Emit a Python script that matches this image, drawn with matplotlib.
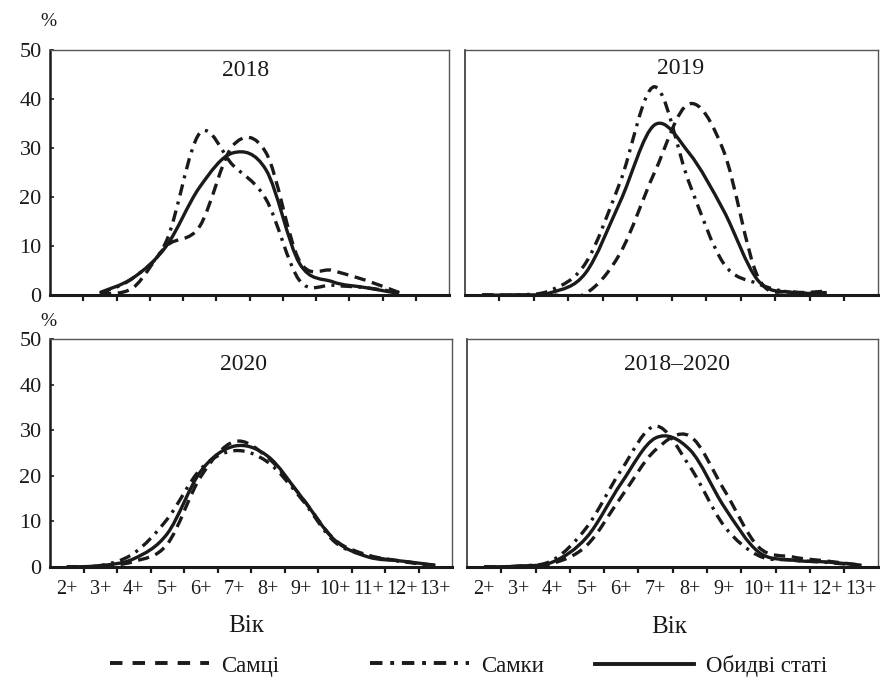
import numpy as np
import matplotlib
matplotlib.use('Agg')
import matplotlib.pyplot as plt
from matplotlib.path import Path
from matplotlib.patches import PathPatch
from matplotlib.lines import Line2D

plt.rcParams['font.family'] = ['Liberation Serif', 'DejaVu Serif']

# вікові групи
ages = ['2+', '3+', '4+', '5+', '6+', '7+', '8+', '9+', '10+', '11+', '12+', '13+']
nan = np.nan

# 2018
m2018 = [nan, 0.2, 1.5, 10.0, 14.0, 30.5, 29.0, 7.0, 5.0, 3.0, 0.5, nan]
f2018 = [nan, 0.3, 3.5, 11.0, 33.0, 26.5, 19.5, 3.0, 2.0, 1.5, 0.5, nan]
s2018 = [nan, 0.5, 3.5, 10.0, 22.0, 29.0, 25.5, 6.5, 2.7, 1.5, 0.3, nan]
# 2019
m2019 = [0, 0, 0, 0.3, 8.5, 25.0, 39.0, 29.5, 3.7, 0.7, 0.8, nan]
f2019 = [0, 0, 1.0, 6.5, 23.0, 42.5, 23.0, 6.5, 2.3, 0.5, 0.5, nan]
s2019 = [0, 0, 0.5, 4.5, 19.0, 34.7, 29.0, 17.3, 3.0, 0.5, 0.5, nan]
# 2020
m2020 = [0, 0.2, 1.2, 5.0, 19.8, 27.5, 24.0, 15.4, 6.0, 2.6, 1.3, 0.3]
f2020 = [0, 0.3, 3.0, 10.5, 21.5, 25.5, 23.0, 15.0, 5.5, 2.5, 1.2, 0.3]
s2020 = [0, 0.3, 1.8, 7.3, 21.0, 26.5, 24.3, 15.4, 5.9, 2.2, 1.3, 0.4]
# 2018-2020
m_all = [0, 0.1, 0.8, 4.8, 15.4, 25.7, 28.7, 16.9, 4.4, 2.2, 1.3, 0.4]
f_all = [0, 0.2, 1.5, 8.8, 21.3, 30.9, 22.0, 9.0, 2.5, 1.5, 1.0, 0.3]
s_all = [0, 0.2, 1.1, 6.6, 18.4, 28.3, 25.7, 13.2, 3.3, 1.5, 1.1, 0.4]

panels = [
    ('2018', m2018, f2018, s2018),
    ('2019', m2019, f2019, s2019),
    ('2020', m2020, f2020, s2020),
    ('2018–2020', m_all, f_all, s_all),
]

W, H = 881, 679
# позиції осей у пікселях: x0, y_top, x1, y_bottom
boxes = [(50, 50, 449, 295), (465, 50, 878.5, 295),
         (50, 339, 452, 567), (467, 339, 878.5, 567)]
title_pos = [(246, 70), (681, 68), (243, 365), (677, 365)]

c = '#1a1a1a'
lw = 2.4
st_m = (0, (3.4, 2.0))
st_f = (0, (3.4, 1.9, 0.9, 1.9))


def fx(x):
    return x / W


def fy(y):
    return 1 - y / H


def smooth_path(xs, ys):
    # гладка крива як в Excel (Catmull-Rom через Безье)
    pts = [(x, y) for x, y in zip(xs, ys) if not np.isnan(y)]
    n = len(pts)
    verts = [pts[0]]
    codes = [Path.MOVETO]
    for i in range(n - 1):
        p0 = pts[max(i - 1, 0)]
        p1 = pts[i]
        p2 = pts[i + 1]
        p3 = pts[min(i + 2, n - 1)]
        c1 = (p1[0] + (p2[0] - p0[0]) / 6, p1[1] + (p2[1] - p0[1]) / 6)
        c2 = (p2[0] - (p3[0] - p1[0]) / 6, p2[1] - (p3[1] - p1[1]) / 6)
        verts += [c1, c2, p2]
        codes += [Path.CURVE4] * 3
    return Path(verts, codes)


fig = plt.figure(figsize=(W / 100, H / 100), dpi=100)
xpos = np.arange(len(ages)) + 0.5

for k, (name, m, f, s) in enumerate(panels):
    x0, yt, x1, yb = boxes[k]
    ax = fig.add_axes([fx(x0), fy(yb), (x1 - x0) / W, (yb - yt) / H])
    ax.set_xlim(0, 12)
    ax.set_ylim(0, 50)

    for vals, ls in ((m, st_m), (f, st_f), (s, '-')):
        p = PathPatch(smooth_path(xpos, vals), fill=False, edgecolor=c,
                      linewidth=lw, linestyle=ls, capstyle='butt')
        ax.add_patch(p)

    ax.set_xticks(xpos)
    ax.set_xticklabels(ages, fontsize=14.5)
    ax.set_xticks(np.arange(1, 12), minor=True)
    ax.tick_params(axis='x', which='major', length=0, pad=9, colors=c)
    ax.tick_params(axis='x', which='minor', length=4, width=1.6,
                   direction='out', color=c)
    ax.set_yticks(np.arange(0, 51, 10))
    ax.tick_params(axis='y', length=3, width=1.2, direction='in',
                   pad=6, labelsize=16, colors=c)
    if k < 2:
        ax.tick_params(axis='x', labelbottom=False)
    if k % 2 == 1:
        ax.tick_params(axis='y', labelleft=False, length=0)

    for side in ('top', 'right'):
        ax.spines[side].set_linewidth(1.0)
        ax.spines[side].set_color('#555555')
    ax.spines['bottom'].set_linewidth(2.2)
    ax.spines['bottom'].set_color(c)
    if k % 2 == 0:
        ax.spines['left'].set_linewidth(1.8)
        ax.spines['left'].set_color(c)
    else:
        ax.spines['left'].set_linewidth(1.2)
        ax.spines['left'].set_color('#333333')

    tx, ty = title_pos[k]
    fig.text(fx(tx), fy(ty), name, fontsize=17, ha='center', va='center',
             color=c)

fig.text(fx(48), fy(22), '%', fontsize=14, ha='center', va='center', color=c)
fig.text(fx(48), fy(321), '%', fontsize=14, ha='center', va='center', color=c)
fig.text(fx(246), fy(626), 'Вік', fontsize=18, ha='center', va='center', color=c)
fig.text(fx(669), fy(627), 'Вік', fontsize=18, ha='center', va='center', color=c)

# легенда: три окремі записи
leg_items = [
    (110, Line2D([], [], color=c, lw=2.8, linestyle=(0, (3.2, 2.6))), 'Самці'),
    (370, Line2D([], [], color=c, lw=2.8, linestyle=(0, (3.2, 2.0, 1.0, 2.0))), 'Самки'),
    (595, Line2D([], [], color=c, lw=2.8, linestyle='-'), 'Обидві статі'),
]
for lx, h, lab in leg_items:
    fig.legend([h], [lab], loc='center left', bbox_to_anchor=(fx(lx), fy(666)),
               frameon=False, fontsize=16.5, handlelength=4.3, handletextpad=0.55,
               borderpad=0, borderaxespad=0, labelcolor=c)

fig.savefig('out.png', dpi=100)
